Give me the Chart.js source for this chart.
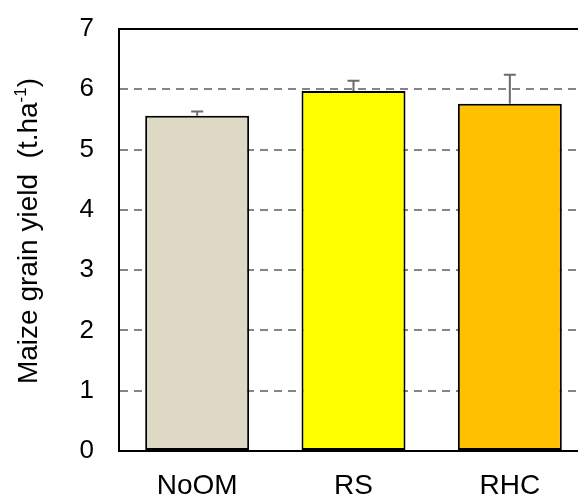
<!DOCTYPE html>
<html>
<head>
<meta charset="utf-8">
<script src="https://cdn.jsdelivr.net/npm/chart.js@4"></script>
<style>
html,body{margin:0;padding:0;overflow:hidden;background:#fff;}
canvas{display:block;}
</style>
</head>
<body>
<canvas id="c" width="600" height="497"></canvas>
<script>
const categories = ["NoOM", "RS", "RHC"];
const yieldValues = [5.56, 5.97, 5.76];
const yieldErrors = [0.07, 0.17, 0.48];
const barColors = ["#DDD9C4", "#FFFF00", "#FFC000"];
const yTicks = [0, 1, 2, 3, 4, 5, 6, 7];
const yTitleMain = "Maize grain yield  (t.ha";
const yTitleSup = "-1";
const yTitleEnd = ")";

const FONT = 'Arial, "Liberation Sans", sans-serif';

const errorBarPlugin = {
  id: 'errorBars',
  afterDatasetsDraw(chart) {
    const ctx = chart.ctx;
    const meta = chart.getDatasetMeta(0);
    const ys = chart.scales.y;
    ctx.save();
    ctx.strokeStyle = '#6b6b6b';
    ctx.lineWidth = 2;
    meta.data.forEach((bar, i) => {
      const top = ys.getPixelForValue(yieldValues[i] + yieldErrors[i]);
      ctx.beginPath();
      ctx.moveTo(bar.x, bar.y);
      ctx.lineTo(bar.x, top);
      ctx.moveTo(bar.x - 6, top);
      ctx.lineTo(bar.x + 6, top);
      ctx.stroke();
    });
    ctx.restore();
  }
};

const frameAndTitlePlugin = {
  id: 'frameTitle',
  afterDraw(chart) {
    const ctx = chart.ctx;
    const a = chart.chartArea;
    ctx.save();
    ctx.strokeStyle = '#000';
    ctx.lineWidth = 2;
    ctx.beginPath();
    ctx.moveTo(a.left - 1, a.top);
    ctx.lineTo(a.right + 20, a.top);
    ctx.stroke();
    // y title with superscript
    ctx.fillStyle = '#000';
    const big = '28px ' + FONT, small = '17px ' + FONT;
    ctx.font = big;
    const w1 = ctx.measureText(yTitleMain).width;
    ctx.font = small;
    const w2 = ctx.measureText(yTitleSup).width;
    ctx.font = big;
    const w3 = ctx.measureText(yTitleEnd).width;
    const total = w1 + w2 + w3;
    const cx = 37, cy = 231;
    ctx.translate(cx, cy);
    ctx.rotate(-Math.PI / 2);
    ctx.textBaseline = 'alphabetic';
    ctx.textAlign = 'left';
    let x = -total / 2;
    ctx.font = big;
    ctx.fillText(yTitleMain, x, 0);
    x += w1;
    ctx.font = small;
    ctx.fillText(yTitleSup, x, -11);
    x += w2;
    ctx.font = big;
    ctx.fillText(yTitleEnd, x, 0);
    ctx.restore();
  }
};

new Chart(document.getElementById('c'), {
  type: 'bar',
  data: {
    labels: categories,
    datasets: [{
      data: yieldValues,
      backgroundColor: barColors,
      borderColor: '#000',
      borderWidth: 2,
      borderSkipped: false,
      barPercentage: 0.665,
      categoryPercentage: 1
    }]
  },
  options: {
    responsive: false,
    animation: false,
    devicePixelRatio: 1,
    layout: { padding: { top: 29, right: 12, left: 0, bottom: 0 } },
    plugins: { legend: { display: false }, tooltip: { enabled: false } },
    scales: {
      x: {
        offset: true,
        grid: { display: false, drawTicks: false },
        border: { display: true, color: '#000', width: 2 },
        ticks: { color: '#000', font: { family: FONT, size: 28 }, padding: 18 },
        afterFit(s) { s.height = 46; s.paddingLeft = 0; s.paddingRight = 0; }
      },
      y: {
        min: 0, max: 7,
        afterBuildTicks(s) { s.ticks = yTicks.map(v => ({ value: v })); },
        grid: {
          drawTicks: false,
          color: (c) => (c.tick && (c.tick.value === 0 || c.tick.value === 7)) ? 'rgba(0,0,0,0)' : '#858585',
          lineWidth: 2
        },
        border: { display: true, color: '#000', width: 2, dash: [8, 6] },
        ticks: { color: '#000', font: { family: FONT, size: 26 }, padding: 25 },
        afterFit(s) { s.width = 119; s.paddingTop = 0; s.paddingBottom = 0; }
      }
    }
  },
  plugins: [errorBarPlugin, frameAndTitlePlugin]
});
</script>
</body>
</html>
